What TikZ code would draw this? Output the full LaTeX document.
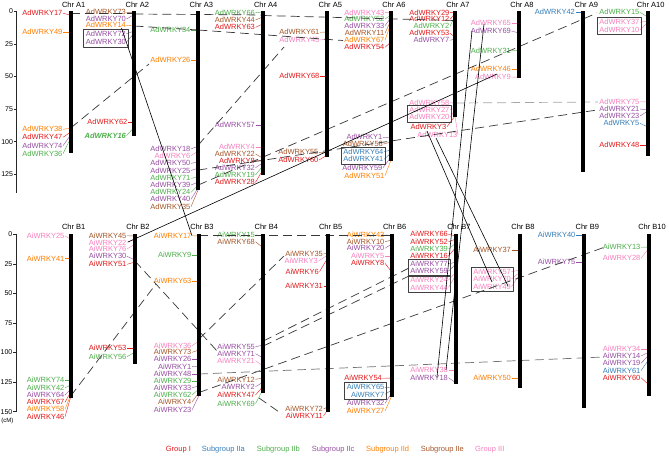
\documentclass[tikz,border=0pt]{standalone}
\usepackage{fontspec}
\setmainfont{Liberation Sans}
\usetikzlibrary{fit}
\definecolor{gRed}{HTML}{E41A1C}
\definecolor{gBlue}{HTML}{377EB8}
\definecolor{gGreen}{HTML}{4DAF4A}
\definecolor{gPurple}{HTML}{984EA3}
\definecolor{gOrange}{HTML}{FF7F00}
\definecolor{gBrown}{HTML}{A65628}
\definecolor{gPink}{HTML}{F781BF}
% one gene: [node options] number, colour, label y, position on the bar
\newcommand{\ad}[5][]{%
  \node[glabel,text=#3,anchor=east,#1] (d#2) at (\labx,#4) {AdWRKY#2};
  \coordinate (d#2b) at (\barx,#5);
  \draw[leader,draw=#3] (d#2.east) -- (d#2b);}
\newcommand{\ai}[5][]{%
  \node[glabel,text=#3,anchor=east,#1] (i#2) at (\labx,#4) {AiWRKY#2};
  \coordinate (i#2b) at (\barx,#5);
  \draw[leader,draw=#3] (i#2.east) -- (i#2b);}
\begin{document}
\begin{tikzpicture}[x=1pt,y=-1pt,line join=round]
\useasboundingbox (0,0) rectangle (669,456);
\path[fill=white] (0,0) rectangle (669,456);
\tikzset{glabel/.style={font=\fontsize{7.5}{8}\selectfont,inner sep=0pt,outer sep=0.6pt},boldlbl/.style={font=\fontsize{7.5}{8}\selectfont\bfseries\itshape},leader/.style={line width=0.4pt},chrbar/.style={draw=black,line width=3.8pt},chrlbl/.style={font=\fontsize{7.5}{8}\selectfont,inner sep=0pt},dup/.style={draw=black!78,line width=0.7pt,dash pattern=on 9pt off 5pt},ortho/.style={draw=black,line width=0.6pt},grpbox/.style={draw=black!75,line width=0.6pt,inner sep=1.5pt},axisline/.style={draw=black!85,line width=0.6pt},ticklbl/.style={font=\fontsize{7}{8}\selectfont,inner sep=0pt,anchor=east},legend/.style={font=\fontsize{7.5}{8}\selectfont,inner sep=0pt,anchor=west}}
% scales
\draw[axisline] (16.7,11.2) -- (16.7,193);
\foreach \v in {0,25,...,125} {\draw[axisline] (13.8,11.2+\v*1.305) -- (16.7,11.2+\v*1.305); \node[ticklbl] (ta\v) at (13.2,11.2+\v*1.305) {\v};}
\draw[axisline] (16,234.3) -- (16,411.6);
\foreach \v in {0,25,...,150} {\draw[axisline] (13.1,234.3+\v*1.182) -- (16,234.3+\v*1.182); \node[ticklbl] (tb\v) at (12.5,234.3+\v*1.182) {\v};}
\node[ticklbl,font=\fontsize{6}{7}\selectfont] (cm) at (13.5,420.5) {(cM)};
% chromosome names
\foreach \n/\x in {A1/70.7,A2/134.3,A3/198.3,A4/262.7,A5/327.3,A6/391,A7/455,A8/519,A9/583.3,A10/647.7} \node[chrlbl] (c\n) at (\x+3,5) {Chr \n};
\foreach \n/\x in {B1/70.7,B2/135,B3/199,B4/263.3,B5/327.7,B6/391.7,B7/456,B8/520,B9/584.3,B10/649} \node[chrlbl] (c\n) at (\x+3,227.3) {Chr \n};
% Chr A1
\def\barx{70.7}\def\labx{63}
\ad{17}{gRed}{13.3}{15}
\ad{49}{gOrange}{31.7}{31.7}
\ad{38}{gOrange}{129.3}{128}
\ad{47}{gRed}{137.3}{132}
\ad{74}{gPurple}{145.7}{135}
\ad{36}{gGreen}{153.7}{138}
% Chr A2
\def\barx{134.3}\def\labx{126.5}
\ad{73}{gBrown}{12.3}{12.5}
\ad{70}{gPurple}{19}{14.5}
\ad{14}{gOrange}{25.3}{26}
\ad{72}{gPurple}{33.7}{31}
\ad{30}{gPurple}{42}{33}
\ad[xshift=1.5]{62}{gRed}{122.3}{122.3}
\ad[boldlbl]{16}{gGreen}{135.7}{127}
\node[grpbox,fit=(d72)(d30)] (bxA2) {};
% Chr A3
\def\barx{198.3}\def\labx{191}
\ad{34}{gGreen}{30}{30}
\ad{26}{gOrange}{60}{60}
\ad{18}{gPurple}{149}{146}
\ad{6}{gPink}{155.7}{151}
\ad{50}{gPurple}{163.3}{162}
\ad{25}{gPurple}{170.5}{168}
\ad{71}{gGreen}{178.3}{177}
\ad{39}{gPurple}{185}{182}
\ad{24}{gGreen}{192.3}{185}
\ad{40}{gPurple}{199.3}{187.5}
\ad{35}{gBrown}{206.7}{189.5}
% Chr A4
\def\barx{262.7}\def\labx{255.5}
\ad{66}{gGreen}{12.7}{12}
\ad{44}{gBrown}{20}{17}
\ad{63}{gRed}{27.3}{24}
\ad{57}{gPurple}{125}{125}
\ad{4}{gPink}{146.7}{146.7}
\ad{22}{gBrown}{154}{158}
\ad{8}{gRed}{160.7}{161}
\ad{32}{gPurple}{167.7}{163}
\ad{19}{gGreen}{175}{166}
\ad{28}{gRed}{182.3}{170}
% Chr A5
\def\barx{327.3}\def\labx{320}
\ad{61}{gBrown}{32.3}{32}
\ad{45}{gPink}{40}{39}
\ad{68}{gRed}{75.7}{75.7}
\ad[xshift=-1]{55}{gBrown}{152.3}{153}
\ad[xshift=-1]{60}{gRed}{160}{155}
% Chr A6
\def\barx{391}\def\labx{385}
\ad{43}{gPink}{12.7}{12.5}
\ad{52}{gGreen}{19}{15}
\ad{33}{gPurple}{25.7}{17.5}
\ad{11}{gBrown}{33.3}{20}
\ad{67}{gOrange}{40.3}{23}
\ad{54}{gRed}{47.3}{42}
\ad[xshift=-2]{1}{gPurple}{137.3}{138}
\ad[xshift=-1.5]{56}{gBrown}{144}{142}
\ad[xshift=-1]{64}{gBlue}{151.7}{150}
\ad[xshift=-1]{41}{gBlue}{159.3}{153}
\ad[xshift=-2]{59}{gPurple}{167.7}{157}
\ad{51}{gOrange}{175.7}{160}
\node[grpbox,fit=(d64)(d41)] (bxA6) {};
% Chr A7
\def\barx{455}\def\labx{450}
\ad{29}{gRed}{12.7}{12.5}
\ad{12}{gRed}{19.3}{14}
\ad{2}{gGreen}{26.3}{16}
\ad{53}{gRed}{33.3}{37}
\ad{7}{gPurple}{40.3}{39}
\ad{58}{gPink}{102.7}{103}
\ad{27}{gPink}{110}{108}
\ad{20}{gPink}{117.3}{110}
\ad[xshift=-3]{3}{gRed}{126.7}{116}
\ad[xshift=8]{13}{gPink}{135}{116.5}
\node[grpbox,fit=(d27)(d20)] (bxA7) {};
% Chr A8
\def\barx{519}\def\labx{511.5}
\ad{65}{gPink}{23.3}{23.3}
\ad{69}{gPurple}{31}{33}
\ad{31}{gGreen}{51}{50}
\ad{46}{gOrange}{69.3}{69.3}
\ad{9}{gPink}{77.3}{77}
% Chr A9
\def\barx{583.3}\def\labx{575.5}
\ad{42}{gBlue}{12.3}{12.3}
% Chr A10
\def\barx{647.7}\def\labx{640}
\ad{15}{gGreen}{12.3}{17}
\ad{37}{gPink}{22.3}{21}
\ad{10}{gPink}{29.7}{22.5}
\ad{75}{gPink}{101.7}{102}
\ad{21}{gPurple}{109}{110}
\ad{23}{gPurple}{116}{111}
\ad{5}{gBlue}{123.3}{127}
\ad{48}{gRed}{145}{145}
\node[grpbox,fit=(d37)(d10)] (bxA10) {};
% Chr B1
\def\barx{70.7}\def\labx{65}
\ai{25}{gPink}{236}{239}
\ai{41}{gOrange}{258.3}{258.3}
\ai{74}{gGreen}{380}{380}
\ai{42}{gGreen}{387.7}{385}
\ai{64}{gPurple}{395}{389}
\ai{67}{gRed}{402.3}{392}
\ai{58}{gOrange}{409.3}{395}
\ai{46}{gRed}{416.7}{397}
% Chr B2
\def\barx{135}\def\labx{127}
\ai{45}{gBrown}{235.7}{236}
\ai{22}{gPink}{242.3}{239}
\ai{76}{gPink}{249}{244}
\ai{30}{gPurple}{256.3}{260}
\ai{51}{gRed}{264.3}{262}
\ai{53}{gRed}{348.3}{348.3}
\ai{56}{gGreen}{356.7}{352}
% Chr B3
\def\barx{199}\def\labx{192}
\ai{17}{gOrange}{235.7}{236}
\ai{9}{gGreen}{255}{255}
\ai{63}{gOrange}{281}{281}
\ai{36}{gPink}{345.7}{341}
\ai{73}{gBrown}{352.3}{350}
\ai{26}{gPurple}{359.3}{359.3}
\ai{1}{gPurple}{366.7}{366}
\ai{48}{gPurple}{373.7}{373.7}
\ai{29}{gGreen}{380.7}{380.7}
\ai{33}{gPurple}{387.7}{386}
\ai{62}{gGreen}{395}{389}
\ai{4}{gBrown}{402}{392.5}
\ai{23}{gPurple}{410}{395.5}
% Chr B4
\def\barx{263.3}\def\labx{255.5}
\ai{15}{gGreen}{235}{236}
\ai{68}{gBrown}{241.7}{248}
\ai{55}{gPurple}{346.7}{345}
\ai{71}{gPurple}{353.7}{358}
\ai{21}{gPink}{360.7}{366}
\ai{12}{gBrown}{379.3}{378}
\ai{2}{gPurple}{386.7}{382}
\ai{47}{gRed}{395}{386}
\ai{69}{gGreen}{403.7}{389}
% Chr B5
\def\barx{327.7}\def\labx{323.5}
\ai{35}{gBrown}{254}{253}
\ai[xshift=-5]{3}{gPink}{261}{255}
\ai[xshift=-4]{6}{gRed}{271.7}{258}
\ai{31}{gRed}{285.7}{285.7}
\ai{72}{gBrown}{409}{407}
\ai{11}{gRed}{415.7}{410}
% Chr B6
\def\barx{391.7}\def\labx{385}
\ai{43}{gOrange}{235}{235.5}
\ai{10}{gBrown}{241.7}{240}
\ai{20}{gPurple}{248.3}{244}
\ai{5}{gPink}{255.7}{255.7}
\ai{8}{gRed}{263.3}{272}
\ai[xshift=-2.5]{54}{gRed}{378.3}{378}
\ai{65}{gBlue}{387.3}{388}
\ai{7}{gBlue}{394.3}{390}
\ai{32}{gPurple}{403.3}{393}
\ai{27}{gOrange}{411}{396}
\node[grpbox,fit=(i65)(i7)] (bxB6) {};
% Chr B7
\def\barx{456}\def\labx{448.5}
\ai{66}{gRed}{234.3}{236}
\ai{52}{gRed}{241.7}{239}
\ai{39}{gGreen}{249}{243}
\ai{16}{gRed}{256}{247}
\ai{77}{gPurple}{264}{262}
\ai{59}{gPurple}{271}{264}
\ai{24}{gPink}{280}{272}
\ai{44}{gPink}{287.3}{275}
\ai{38}{gPink}{370}{370}
\ai{18}{gPurple}{377.7}{383}
\node[grpbox,fit=(i77)(i59)] (bxB7a) {};
\node[grpbox,fit=(i24)(i44)] (bxB7b) {};
% Chr B8
\def\barx{520}\def\labx{511.5}
\ai{37}{gBrown}{250}{250}
\ai{57}{gPink}{271.7}{270}
\ai{70}{gPink}{279}{272}
\ai{49}{gPink}{286.7}{274}
\ai{50}{gOrange}{378.3}{378.3}
\node[grpbox,fit=(i57)(i70)(i49)] (bxB8) {};
% Chr B9
\def\barx{584.3}\def\labx{576}
\ai{40}{gBlue}{235}{235}
\ai{75}{gPurple}{261.7}{261.7}
% Chr B10
\def\barx{649}\def\labx{641}
\ai{13}{gGreen}{247.3}{247}
\ai{28}{gPink}{258.3}{248}
\ai{34}{gPink}{349}{349}
\ai{14}{gPurple}{356}{352}
\ai{19}{gPurple}{363.3}{355}
\ai{61}{gBlue}{370.7}{359}
\ai{60}{gRed}{377.7}{385}
% duplicated pairs, A genome
\coordinate (u1a) at (70.7,13); \coordinate (u1b) at (134.3,13);
\coordinate (u2a) at (134.3,14); \coordinate (u2b) at (262.7,15);
\coordinate (u3a) at (262.7,15.5); \coordinate (u3b) at (455,20.5);
\coordinate (u4a) at (134.3,26); \coordinate (u4b) at (198.3,30);
\coordinate (u5a) at (198.3,30); \coordinate (u5b) at (343,40.5);
\coordinate (u6a) at (70.7,128); \coordinate (u6b) at (149,64);
\coordinate (u7a) at (198.3,145); \coordinate (u7b) at (284,47);
\coordinate (u8a) at (198.3,185); \coordinate (u8b) at (597,13);
\coordinate (u9a) at (198.3,170); \coordinate (u9b) at (597,110);
\coordinate (u10a) at (455,103); \coordinate (u10b) at (598,102);
\foreach \k in {1,...,9} \draw[dup] (u\k a) -- (u\k b);
\draw[dup,draw=black!35] (u10a) -- (u10b);
% duplicated pairs, B genome
\coordinate (v1a) at (199,235.5); \coordinate (v1b) at (391.7,235.5);
\coordinate (v2a) at (135,261); \coordinate (v2b) at (218,352);
\coordinate (v3a) at (70.7,396); \coordinate (v3b) at (156,284);
\coordinate (v4a) at (199,339); \coordinate (v4b) at (284,256);
\coordinate (v5a) at (199,392.5); \coordinate (v5b) at (605,247);
\coordinate (v6a) at (263.3,341); \coordinate (v6b) at (409,268);
\coordinate (v7a) at (263.3,346); \coordinate (v7b) at (409,276);
\coordinate (v8a) at (259,398); \coordinate (v8b) at (282,414);
\coordinate (v9a) at (199,374); \coordinate (v9b) at (604,357);
\foreach \k in {1,...,8} \draw[dup] (v\k a) -- (v\k b);
\draw[dup,draw=black!55] (v9a) -- (v9b);
% A to B pairs
\coordinate (o1a) at (121.5,28);
\coordinate (o2a) at (484,24); \coordinate (o2b) at (446,370);
\coordinate (o3a) at (472,31); \coordinate (o3b) at (437,377);
\coordinate (o4a) at (427,131); \coordinate (o4b) at (492,282);
\coordinate (o5a) at (436,138); \coordinate (o5b) at (508,286);
\coordinate (o6a) at (128,242); \coordinate (o6b) at (497,74);
\draw[ortho] (o1a) -- (i17.east);
\foreach \k in {2,...,6} \draw[ortho] (o\k a) -- (o\k b);
% chromosomes
\foreach \x/\e in {70.7/153,134.3/135.7,198.3/190,262.7/175,327.3/156.7,391/161,455/116.7,519/77.7,583.3/171.7,647.7/156} \draw[chrbar] (\x,11.2) -- (\x,\e);
\foreach \x/\e in {70.7/397.7,135/364.3,199/396,263.3/393.3,327.7/412.3,391.7/396.7,456/384.3,520/388.3,584.3/408.3,649/396} \draw[chrbar] (\x,234.3) -- (\x,\e);
% legend
\node[legend,text=gRed] (lgI) at (165.7,450) {Group I};
\node[legend,text=gBlue] (lgIIa) at (201.7,450) {Subgroup IIa};
\node[legend,text=gGreen] (lgIIb) at (256.7,450) {Subgroup IIb};
\node[legend,text=gPurple] (lgIIc) at (311.7,450) {Subgroup IIc};
\node[legend,text=gOrange] (lgIId) at (366,450) {Subgroup IId};
\node[legend,text=gBrown] (lgIIe) at (420.7,450) {Subgroup IIe};
\node[legend,text=gPink] (lgIII) at (475,450) {Group III};
\end{tikzpicture}
\end{document}
